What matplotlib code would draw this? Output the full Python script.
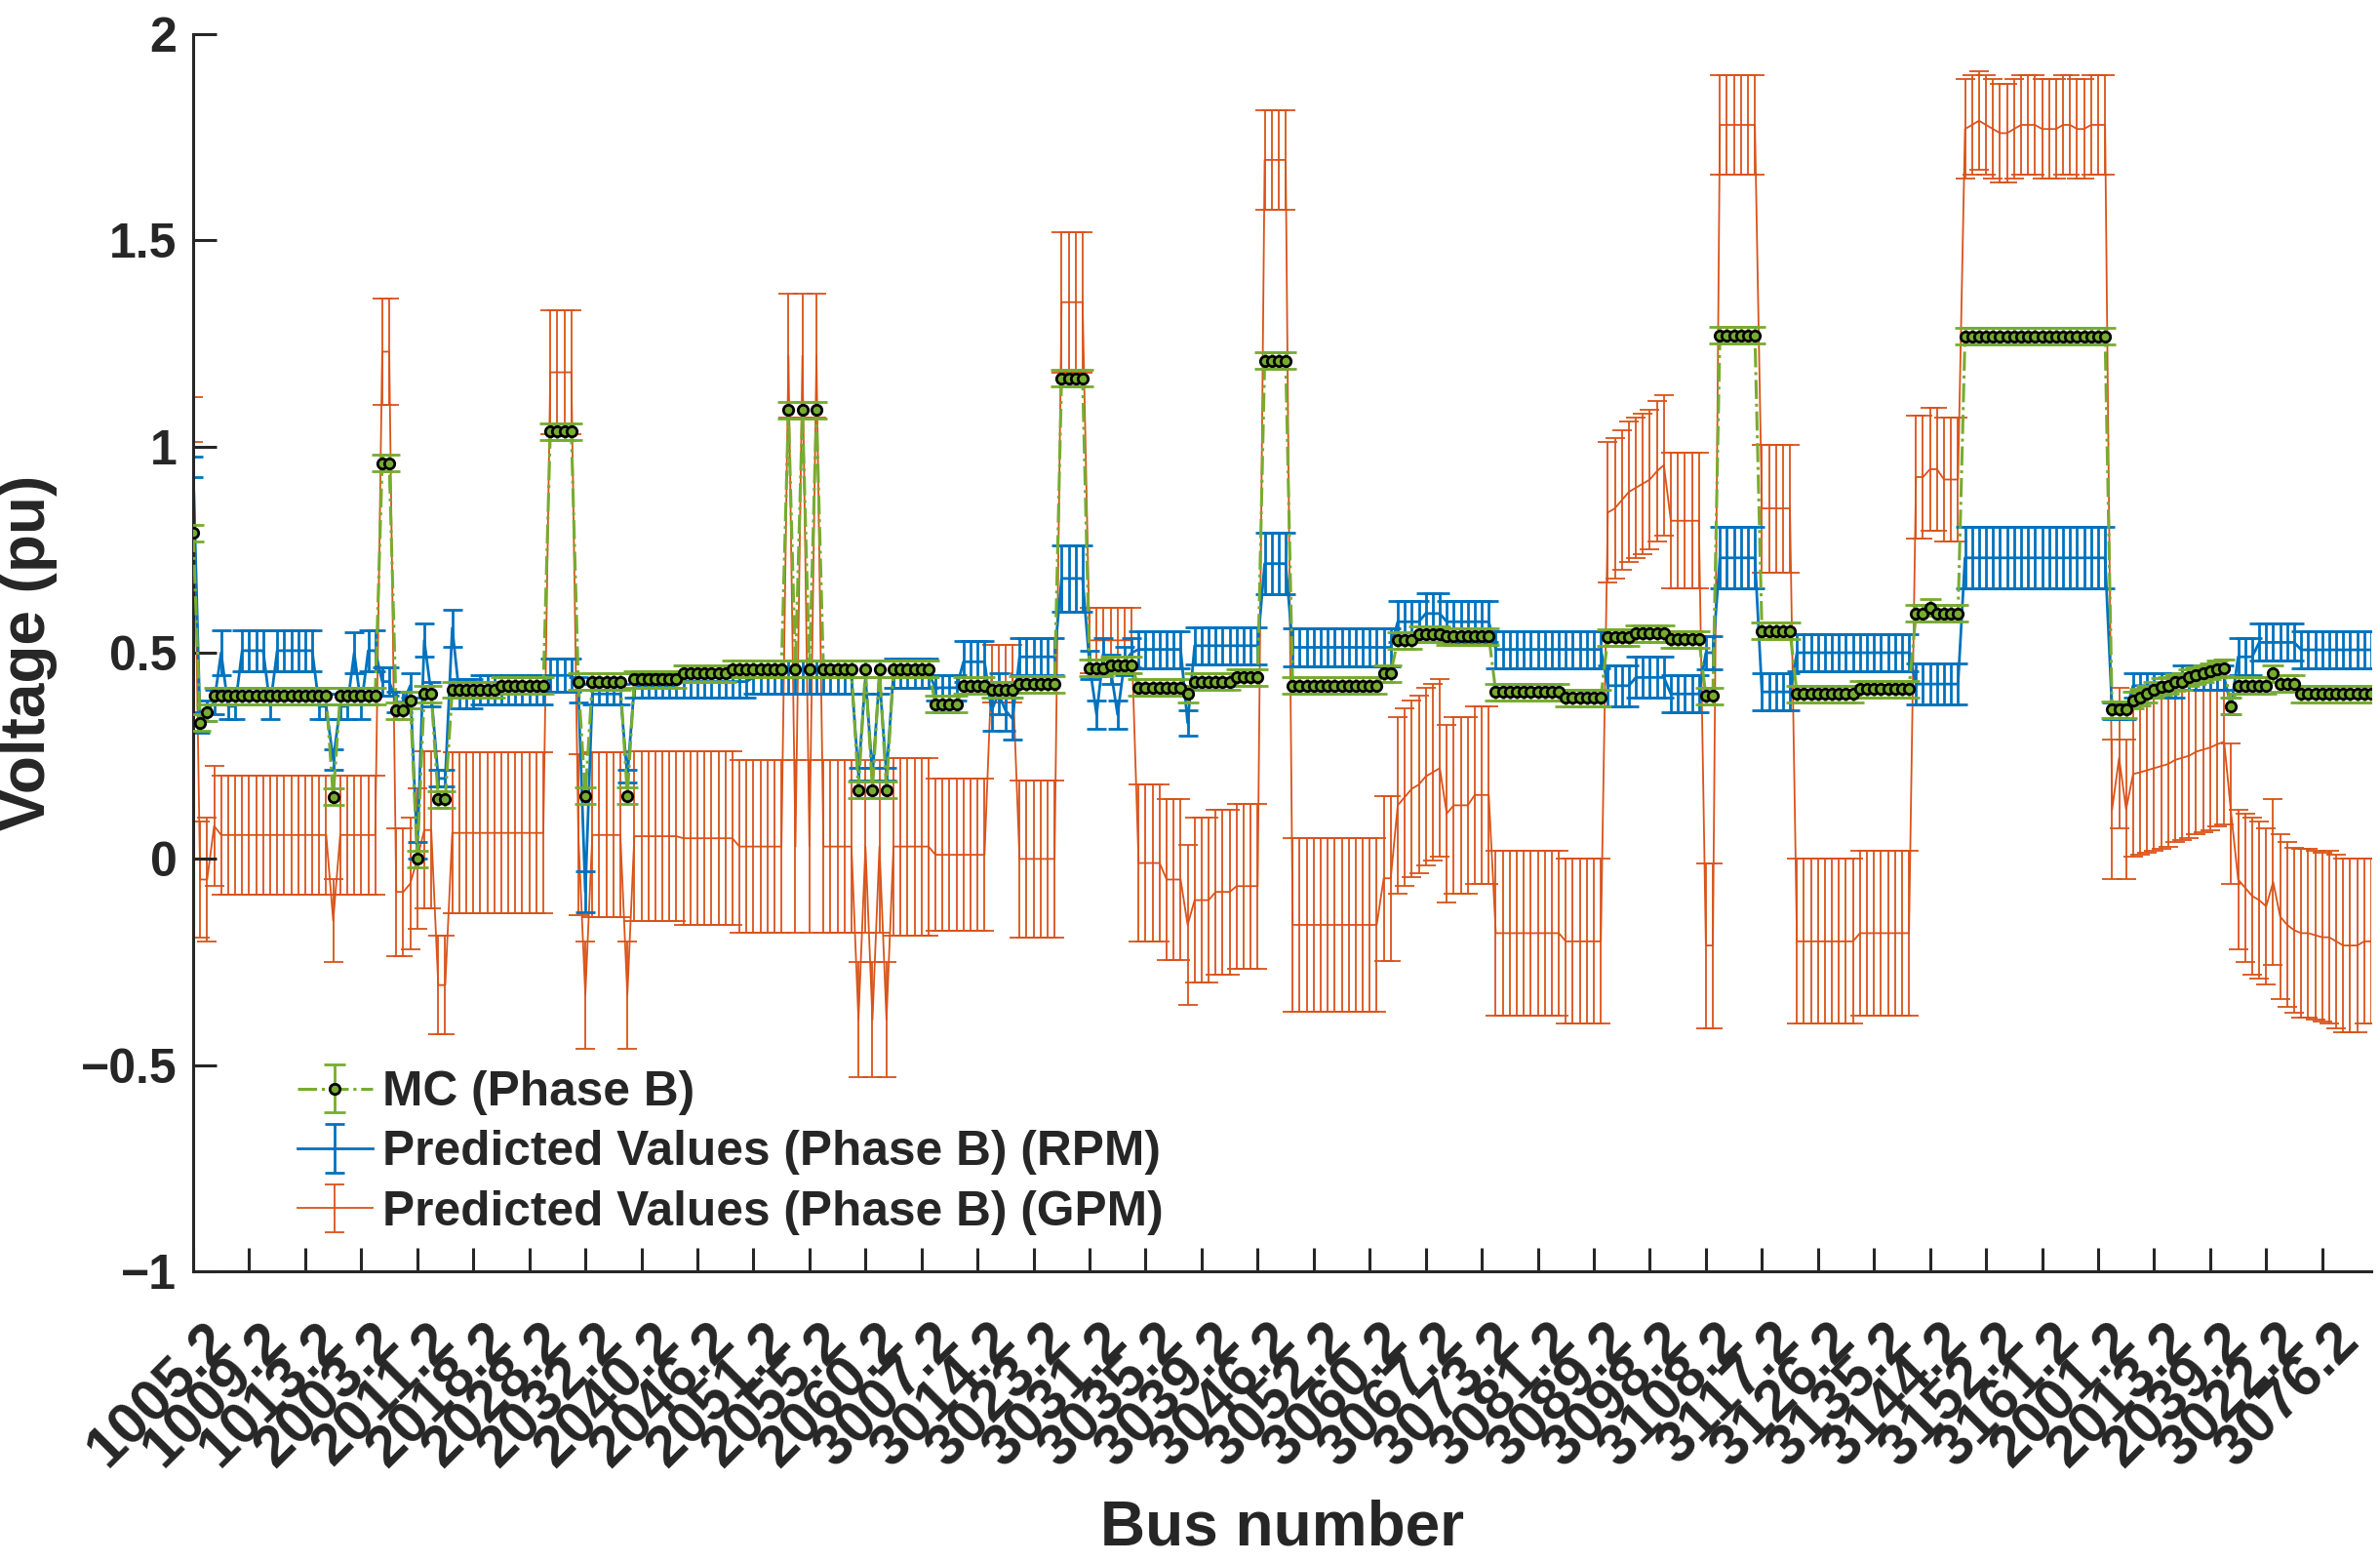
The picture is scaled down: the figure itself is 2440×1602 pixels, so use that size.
import numpy as np
import matplotlib
matplotlib.use('Agg')
import matplotlib.pyplot as plt
from matplotlib.transforms import ScaledTranslation

plt.rcParams['font.family'] = ['Liberation Sans', 'DejaVu Sans']
plt.rcParams['font.weight'] = 'bold'

# bus labels shown every 8th bus
bus_labels = ['1005.2', '1009.2', '1013.2', '2003.2', '2011.2', '2018.2', '2028.2',
              '2032.2', '2040.2', '2046.2', '2051.2', '2055.2', '2060.2', '3007.2',
              '3014.2', '3023.2', '3031.2', '3035.2', '3039.2', '3046.2', '3052.2',
              '3060.2', '3067.2', '3073.2', '3081.2', '3089.2', '3098.2', '3108.2',
              '3117.2', '3126.2', '3135.2', '3144.2', '3152.2', '3161.2', '2001.2',
              '2013.2', '2039.2', '3022.2', '3076.2']

# (number of buses, value)
mc_runs = [(1, 0.79), (1, 0.33), (1, 0.355), (17, 0.395), (1, 0.15), (6, 0.395),
           (2, 0.96), (2, 0.36), (1, 0.385), (1, 0.0), (2, 0.40), (2, 0.145),
           (7, 0.41), (7, 0.42), (4, 1.036), (1, 0.43), (1, 0.153), (5, 0.43),
           (1, 0.153), (7, 0.435), (7, 0.45), (8, 0.46), (1, 1.088), (1, 0.46),
           (1, 1.088), (1, 0.46), (1, 1.088), (5, 0.46), (1, 0.167), (1, 0.46),
           (1, 0.167), (1, 0.46), (1, 0.167), (6, 0.46), (4, 0.375), (4, 0.42),
           (4, 0.41), (6, 0.424), (4, 1.165), (3, 0.463), (4, 0.47), (7, 0.416),
           (1, 0.40), (6, 0.43), (4, 0.44), (4, 1.208), (13, 0.42), (2, 0.45),
           (3, 0.53), (4, 0.545), (7, 0.54), (10, 0.405), (6, 0.39), (4, 0.537),
           (5, 0.547), (5, 0.533), (2, 0.395), (6, 1.27), (5, 0.553), (9, 0.40),
           (8, 0.412), (2, 0.595), (1, 0.61), (4, 0.595), (21, 1.267), (3, 0.362),
           (1, 0.385), (1, 0.392), (1, 0.40), (1, 0.41), (1, 0.418), (1, 0.42),
           (1, 0.428), (1, 0.43), (1, 0.44), (1, 0.445), (1, 0.45), (1, 0.455),
           (1, 0.46), (1, 0.463), (1, 0.37), (5, 0.42), (1, 0.45), (3, 0.425),
           (11, 0.40)]
mc_err = 0.02

# (number of buses, value, error)
rpm_runs = [(1, 0.95, 0.025), (1, 0.33, 0.025), (1, 0.36, 0.025), (1, 0.38, 0.03),
            (1, 0.50, 0.055), (2, 0.37, 0.03), (4, 0.505, 0.05), (1, 0.37, 0.03),
            (6, 0.505, 0.05), (2, 0.37, 0.03), (1, 0.24, 0.025), (2, 0.37, 0.03),
            (1, 0.50, 0.05), (1, 0.37, 0.03), (2, 0.505, 0.05), (2, 0.43, 0.035),
            (2, 0.38, 0.025), (1, 0.42, 0.03), (1, 0.02, 0.02), (1, 0.53, 0.04),
            (1, 0.40, 0.03), (2, 0.195, 0.02), (1, 0.56, 0.045), (3, 0.40, 0.035),
            (10, 0.41, 0.035), (4, 0.445, 0.04), (1, 0.41, 0.03), (1, -0.08, 0.05),
            (5, 0.40, 0.025), (1, 0.20, 0.015), (7, 0.42, 0.03), (10, 0.43, 0.04),
            (15, 0.44, 0.04), (1, 0.205, 0.015), (1, 0.44, 0.04), (1, 0.205, 0.015),
            (1, 0.44, 0.04), (1, 0.205, 0.015), (6, 0.45, 0.035), (4, 0.415, 0.03),
            (4, 0.478, 0.05), (1, 0.36, 0.05), (1, 0.40, 0.05), (1, 0.36, 0.05),
            (1, 0.34, 0.05), (6, 0.49, 0.045), (4, 0.68, 0.08), (1, 0.47, 0.035),
            (1, 0.35, 0.035), (1, 0.50, 0.035), (1, 0.46, 0.035), (1, 0.35, 0.035),
            (1, 0.48, 0.035), (1, 0.50, 0.035), (7, 0.508, 0.045), (1, 0.33, 0.03),
            (10, 0.517, 0.045), (4, 0.716, 0.075), (15, 0.513, 0.045),
            (4, 0.575, 0.05), (3, 0.595, 0.05), (7, 0.575, 0.05), (16, 0.508, 0.045),
            (4, 0.42, 0.05), (5, 0.44, 0.05), (5, 0.40, 0.045), (2, 0.50, 0.04),
            (6, 0.73, 0.075), (5, 0.405, 0.045), (17, 0.50, 0.045), (7, 0.424, 0.05),
            (21, 0.73, 0.075), (3, 0.36, 0.02), (7, 0.42, 0.03), (7, 0.44, 0.03),
            (1, 0.37, 0.02), (3, 0.49, 0.045), (6, 0.525, 0.045), (11, 0.507, 0.045)]

gpm_runs = [(1, 1.065, 0.055), (1, -0.05, 0.14), (1, -0.05, 0.15), (1, 0.08, 0.145),
            (16, 0.058, 0.145), (1, -0.15, 0.10), (6, 0.058, 0.145), (2, 1.23, 0.13),
            (2, -0.08, 0.155), (1, -0.06, 0.16), (1, 0.0, 0.17), (2, 0.07, 0.19),
            (2, -0.306, 0.12), (14, 0.063, 0.195), (4, 1.18, 0.15), (1, 0.058, 0.195),
            (1, -0.33, 0.13), (5, 0.058, 0.2), (1, -0.33, 0.13), (7, 0.055, 0.205),
            (8, 0.05, 0.21), (7, 0.03, 0.21), (1, 1.22, 0.15), (1, 0.03, 0.21),
            (1, 1.22, 0.15), (1, 0.03, 0.21), (1, 1.22, 0.15), (5, 0.03, 0.21),
            (1, -0.39, 0.14), (1, 0.03, 0.21), (1, -0.39, 0.14), (1, 0.03, 0.21),
            (1, -0.39, 0.14), (6, 0.03, 0.215), (8, 0.01, 0.185), (4, 0.45, 0.07),
            (6, 0.0, 0.19), (4, 1.35, 0.17), (7, 0.53, 0.08), (4, -0.01, 0.19),
            (3, -0.05, 0.195), (1, -0.16, 0.195), (3, -0.10, 0.2), (3, -0.08, 0.2),
            (4, -0.066, 0.2), (4, 1.695, 0.12), (13, -0.16, 0.21), (2, -0.047, 0.2),
            (1, 0.13, 0.215), (1, 0.15, 0.215), (1, 0.17, 0.215), (1, 0.18, 0.215),
            (1, 0.20, 0.215), (1, 0.21, 0.215), (1, 0.22, 0.215), (1, 0.11, 0.215),
            (3, 0.13, 0.215), (3, 0.155, 0.215), (10, -0.18, 0.2), (6, -0.20, 0.2),
            (1, 0.84, 0.17), (1, 0.85, 0.17), (1, 0.87, 0.17), (1, 0.89, 0.17),
            (1, 0.90, 0.17), (1, 0.91, 0.17), (1, 0.92, 0.17), (1, 0.94, 0.17),
            (1, 0.955, 0.17), (5, 0.82, 0.165), (2, -0.21, 0.2), (6, 1.78, 0.12),
            (5, 0.85, 0.155), (9, -0.20, 0.2), (8, -0.18, 0.2), (2, 0.926, 0.15),
            (2, 0.945, 0.15), (3, 0.92, 0.15),
            (1, 1.77, 0.12), (1, 1.78, 0.12), (1, 1.79, 0.12), (1, 1.78, 0.12),
            (1, 1.77, 0.12), (1, 1.76, 0.12), (1, 1.76, 0.12), (1, 1.77, 0.12),
            (1, 1.78, 0.12), (1, 1.78, 0.12), (1, 1.78, 0.12), (1, 1.77, 0.12),
            (1, 1.77, 0.12), (1, 1.77, 0.12), (1, 1.78, 0.12), (1, 1.78, 0.12),
            (1, 1.77, 0.12), (1, 1.77, 0.12), (1, 1.78, 0.12), (1, 1.78, 0.12),
            (1, 1.78, 0.12), (1, 0.12, 0.17), (1, 0.245, 0.17), (1, 0.12, 0.17),
            (1, 0.206, 0.2), (1, 0.21, 0.2), (1, 0.215, 0.2), (1, 0.22, 0.2),
            (1, 0.225, 0.2), (1, 0.23, 0.2), (1, 0.24, 0.2), (1, 0.245, 0.2),
            (1, 0.25, 0.2), (1, 0.26, 0.2), (1, 0.265, 0.2), (1, 0.27, 0.2),
            (1, 0.278, 0.2), (1, 0.284, 0.2), (1, 0.11, 0.17),
            (1, -0.05, 0.17), (1, -0.07, 0.18), (1, -0.09, 0.19), (1, -0.10, 0.19),
            (1, -0.115, 0.19), (1, -0.056, 0.2), (1, -0.14, 0.2), (1, -0.16, 0.2),
            (1, -0.173, 0.2), (1, -0.18, 0.205), (1, -0.18, 0.205), (1, -0.185, 0.205),
            (1, -0.19, 0.205), (1, -0.19, 0.21), (1, -0.20, 0.21), (1, -0.21, 0.21),
            (1, -0.21, 0.21), (1, -0.21, 0.21), (1, -0.20, 0.2), (1, -0.20, 0.2)]


def expand(runs):
    cols = list(zip(*runs))
    n = np.array(cols[0])
    return [np.repeat(np.array(c, dtype=float), n) for c in cols[1:]]


mc, = expand(mc_runs)
rpm, rpm_err = expand(rpm_runs)
gpm, gpm_err = expand(gpm_runs)
x = np.arange(1, len(mc) + 1)

green = '#77AC30'
blue = '#0072BD'
orange = '#D95319'
dark = '#262626'

fig = plt.figure(figsize=(24.4, 16.02), dpi=100)
ax = fig.add_axes([198 / 2440, 1 - 1303 / 1602, 2233 / 2440, 1268 / 1602])

h3 = ax.errorbar(x, gpm, yerr=gpm_err, color=orange, lw=1.3, elinewidth=1.3,
                 capsize=7, capthick=1.3, zorder=1,
                 label='Predicted Values (Phase B) (GPM)')
h2 = ax.errorbar(x, rpm, yerr=rpm_err, color=blue, lw=2.0, elinewidth=2.0,
                 capsize=7, capthick=2.0, zorder=2,
                 label='Predicted Values (Phase B) (RPM)')
h1 = ax.errorbar(x, mc, yerr=mc_err, fmt='-.o', color=green, lw=2.2,
                 elinewidth=2.0, capsize=8, capthick=2.0, ms=7.5,
                 mfc=green, mec='black', mew=2.0, zorder=3,
                 label='MC (Phase B)')

ax.set_xlim(1, len(mc))
ax.set_ylim(-1, 2)
ax.set_yticks([-1, -0.5, 0, 0.5, 1, 1.5, 2])
ax.set_yticklabels(['\u22121', '\u22120.5', '0', '0.5', '1', '1.5', '2'])
ax.set_xticks(x[::8])
ax.set_xticklabels(bus_labels, rotation=45, ha='right', va='center',
                   rotation_mode='anchor')

for s in ['top', 'right']:
    ax.spines[s].set_visible(False)
for s in ['left', 'bottom']:
    ax.spines[s].set_linewidth(2.2)
    ax.spines[s].set_color(dark)
ax.tick_params(axis='both', direction='in', length=17, width=2.2, colors=dark,
               labelsize=36)
ax.tick_params(axis='x', pad=45, labelsize=43)
ax.tick_params(axis='y', pad=12)
for lab in ax.get_xticklabels():
    lab.set_transform(lab.get_transform() + ScaledTranslation(0.3, 0, fig.dpi_scale_trans))

ax.set_xlabel('Bus number', fontsize=46, fontweight='bold', color=dark, va='top')
ax.xaxis.set_label_coords(0.5, -0.184)
ax.set_ylabel('Voltage (pu)', fontsize=46, fontweight='bold', color=dark, va='bottom')
ax.yaxis.set_label_coords(-0.0622, 0.5)

leg = fig.legend(handles=[h1, h2, h3], loc='upper left',
                 bbox_to_anchor=(305 / 2440, 1 - 1097 / 1602),
                 frameon=False, fontsize=35.7, handlelength=1.55,
                 handletextpad=0.2, labelspacing=0.31, borderpad=0,
                 borderaxespad=0)
for t in leg.get_texts():
    t.set_color(dark)

fig.savefig('out.png', dpi=100)
